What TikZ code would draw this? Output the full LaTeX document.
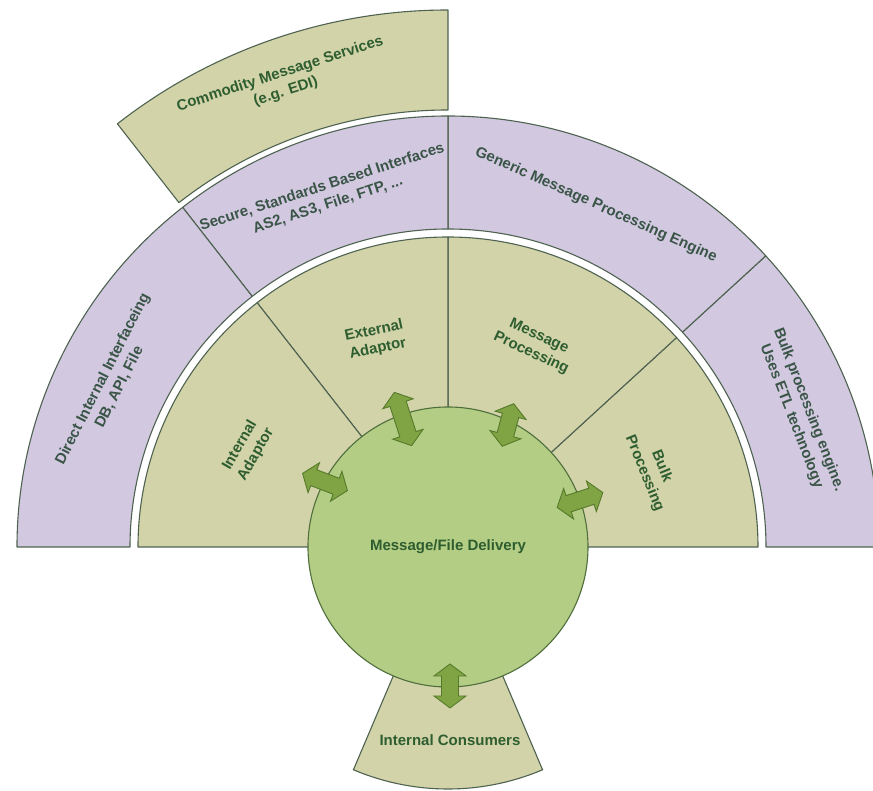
\documentclass[tikz,border=0pt]{standalone}
\usepackage{fontspec}
\setmainfont{Liberation Sans}
\definecolor{tanc}{HTML}{D3D3AA}
\definecolor{purpc}{HTML}{D2C9E1}
\definecolor{edgec}{HTML}{4E6250}
\definecolor{circc}{HTML}{B3CD84}
\definecolor{circedge}{HTML}{4F6E3C}
\definecolor{arrfill}{HTML}{80A343}
\definecolor{arrline}{HTML}{557A2A}
\definecolor{tantext}{HTML}{2E5E30}
\definecolor{purtext}{HTML}{3A5547}
\tikzset{
  sec/.style={draw=edgec, line width=1.1pt, line join=round},
  tansec/.style={sec, fill=tanc},
  pursec/.style={sec, fill=purpc},
  lbl/.style={font=\fontsize{15}{18.5}\selectfont\bfseries, align=center, inner sep=0pt},
  tanlbl/.style={lbl, text=tantext},
  purlbl/.style={lbl, text=purtext},
  arrsty/.style={draw=arrline, fill=arrfill, line width=0.9pt, line join=miter},
}
% annular sector: style, start angle, end angle, inner r, outer r
\newcommand\annsec[5]{%
  \path[#1] (#2:#4pt) -- (#2:#5pt) arc[start angle=#2, end angle=#3, radius=#5pt]
    -- (#3:#4pt) arc[start angle=#3, end angle=#2, radius=#4pt] -- cycle;}
% double block arrow: position, orientation, half length
\newcommand\dblarrow[3]{%
  \begin{scope}[shift={#1}, rotate=#2]
    \path[arrsty] (#3,0) -- (#3-12,16) -- (#3-12,8.5) -- (-#3+12,8.5) -- (-#3+12,16)
      -- (-#3,0) -- (-#3+12,-16) -- (-#3+12,-8.5) -- (#3-12,-8.5) -- (#3-12,-16) -- cycle;
  \end{scope}}
\begin{document}
\begin{tikzpicture}[x=1pt, y=1pt]
  \useasboundingbox (-448,-244) rectangle (425,547);
  % Commodity sector
  \annsec{tansec}{90}{128}{437}{537}
  % purple ring
  \annsec{pursec}{0}{42.5}{318}{431}
  \annsec{pursec}{42.5}{90}{318}{431}
  \annsec{pursec}{90}{128}{318}{431}
  \annsec{pursec}{128}{180}{318}{431}
  % tan inner sectors
  \annsec{tansec}{0}{42.5}{0}{310}
  \annsec{tansec}{42.5}{90}{0}{310}
  \annsec{tansec}{90}{128}{0}{310}
  \annsec{tansec}{128}{180}{0}{310}
  % internal consumers
  \annsec{tansec}{247}{293}{110}{242}
  % central circle
  \node[circle, draw=circedge, fill=circc, line width=1.1pt, minimum size=280pt, inner sep=0pt] (del) at (0,0) {};
  \node[lbl, text=tantext] (deltext) at (0,0) {Message/File Delivery};
  % arrows
  \dblarrow{(-45,128)}{108}{28}
  \dblarrow{(60,122)}{75}{22}
  \dblarrow{(-123,65)}{159}{24}
  \dblarrow{(132,47)}{18}{24}
  \dblarrow{(2,-139)}{90}{22}
  % tan labels
  \node[tanlbl, rotate=60] (ia) at (-200,97) {Internal\\Adaptor};
  \node[tanlbl, rotate=12] (ea) at (-72,207) {External\\Adaptor};
  \node[tanlbl, rotate=-25] (mp) at (87,202) {Message\\Processing};
  \node[tanlbl, rotate=-68] (bp) at (205,77) {Bulk\\Processing};
  \node[tanlbl] (ic) at (2,-193) {Internal Consumers};
  \node[tanlbl, rotate=18] (cms) at (-165,464) {Commodity Message Services\\(e.g. EDI)};
  % purple labels
  \node[purlbl, rotate=63] (dii) at (-337,164) {Direct Internal Interfaceing\\DB, API, File};
  \node[purlbl, rotate=18] (ssb) at (-123,351) {Secure, Standards Based Interfaces\\AS2, AS3, File, FTP, ...};
  \node[purlbl, rotate=-24] (gmp) at (148,342) {Generic Message Processing Engine};
  \node[purlbl, rotate=-69] (bpe) at (352,134) {Bulk processing engine.\\Uses ETL technology};
\end{tikzpicture}
\end{document}
